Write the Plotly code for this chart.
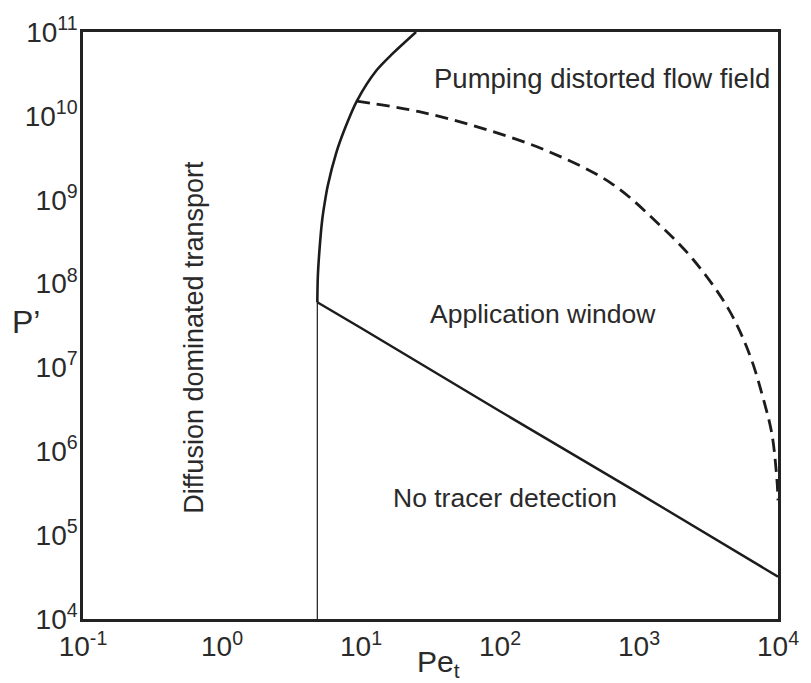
import plotly.graph_objects as go

# Diffusion limit (vertical line)
pe_diff = [4.85, 4.85]
p_diff = [1e4, 6.0e7]

# Solid upper boundary curve
pe_upper = [4.85, 4.89, 5.01, 5.26, 5.48, 5.76, 6.62, 7.67, 9.33, 12.9, 16.8, 24.9]
p_upper = [6.0e7, 1.19e8, 2.34e8, 5.77e8, 9.16e8, 1.46e9, 3.58e9, 7.1e9, 1.5e10, 3.47e10, 5.48e10, 1e11]

# Lower detection limit
pe_lower = [4.85, 10, 100, 1000, 10000]
p_lower = [6.0e7, 2.95e7, 3.0e6, 3.15e5, 3.2e4]

# Dashed pumping limit
pe_pump = [9.33, 26.2, 74.6, 220, 628, 1426, 2443, 4335, 6223, 7943, 9057, 9840, 10000]
p_pump = [1.5e10, 1.12e10, 7.1e9, 3.8e9, 1.58e9, 4.9e8, 1.95e8, 5.2e7, 1.45e7, 3.9e6, 1.58e6, 4.4e5, 2.6e5]

x_tickvals = [0.1, 1, 10, 100, 1000, 10000]
x_ticktext = ["10<sup>-1</sup>", "10<sup>0</sup>", "10<sup>1</sup>", "10<sup>2</sup>", "10<sup>3</sup>", "10<sup>4</sup>"]
y_tickvals = [1e4, 1e5, 1e6, 1e7, 1e8, 1e9, 1e10, 1e11]
y_ticktext = ["10<sup>4</sup>", "10<sup>5</sup>", "10<sup>6</sup>", "10<sup>7</sup>", "10<sup>8</sup>", "10<sup>9</sup>", "10<sup>10</sup>", "10<sup>11</sup>"]

ink = "#1c1c1c"
text_col = "#2a2a2a"
font_family = "Liberation Sans, Arial, sans-serif"

fig = go.Figure()
fig.add_trace(go.Scatter(x=pe_diff, y=p_diff, mode="lines", line=dict(color=ink, width=1.2), showlegend=False))
fig.add_trace(go.Scatter(x=pe_upper, y=p_upper, mode="lines", line=dict(color=ink, width=2.6, shape="spline", smoothing=0.8), showlegend=False))
fig.add_trace(go.Scatter(x=pe_lower, y=p_lower, mode="lines", line=dict(color=ink, width=2.4), showlegend=False))
fig.add_trace(go.Scatter(x=pe_pump, y=p_pump, mode="lines", line=dict(color=ink, width=2.8, dash="13px,7px", shape="spline"), showlegend=False))

labels = [
    ("Pumping distorted flow field", 608, 75, 0, 27.5),
    ("Application window", 548, 312, 0, 26.5),
    ("No tracer detection", 510, 497, 0, 26.5),
    ("Diffusion dominated transport", 195, 335, -90, 27),
]
W, H = 811, 683
L, R, T, B = 83, 25, 28, 64
pw, ph = W - L - R, H - T - B
ann = []
for txt, px, py, ang, fs in labels:
    ann.append(dict(text=txt, x=(px - L) / pw, y=1 - (py - T) / ph, xref="paper", yref="paper",
                    showarrow=False, textangle=ang, font=dict(size=fs, color=text_col, family=font_family),
                    xanchor="center", yanchor="middle"))
ann.append(dict(text="P’", x=(25 - L) / pw, y=1 - (320 - T) / ph, xref="paper", yref="paper",
                showarrow=False, font=dict(size=32, color=text_col, family=font_family),
                xanchor="center", yanchor="middle"))
ann.append(dict(text="Pe<sub>t</sub>", x=(443 - L) / pw, y=1 - (664 - T) / ph, xref="paper", yref="paper",
                showarrow=False, font=dict(size=30, color=text_col, family=font_family),
                xanchor="center", yanchor="middle"))

fig.update_layout(
    width=W, height=H,
    margin=dict(l=L, r=R, t=T, b=B),
    paper_bgcolor="white", plot_bgcolor="white",
    font=dict(family=font_family, color=text_col),
    annotations=ann,
    xaxis=dict(type="log", range=[-1, 4], tickvals=x_tickvals, ticktext=x_ticktext,
               showgrid=False, zeroline=False, showline=True, linecolor="#222222", linewidth=2.5,
               mirror=True, ticks="", tickfont=dict(size=28), ticklabelstandoff=1),
    yaxis=dict(type="log", range=[4, 11], tickvals=y_tickvals, ticktext=y_ticktext,
               showgrid=False, zeroline=False, showline=True, linecolor="#222222", linewidth=2.5,
               mirror=True, ticks="", tickfont=dict(size=28), ticklabelstandoff=-3),
)
fig.write_html("out.html")
